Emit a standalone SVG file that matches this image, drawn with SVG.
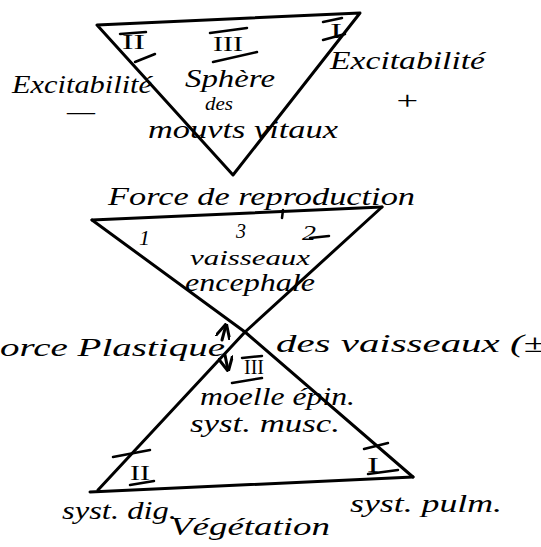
<svg xmlns="http://www.w3.org/2000/svg" width="541" height="547" viewBox="0 0 541 547">
<style>
.ln{fill:none;stroke:#000;stroke-width:3;stroke-linecap:round;stroke-linejoin:round}
.bar{fill:none;stroke:#000;stroke-width:2.5;stroke-linecap:round}
.t{font-family:"Liberation Serif",serif;font-style:italic;fill:#000;font-size:26px}
.s{font-size:22px}
.r{font-family:"Liberation Serif",serif;fill:#000;font-size:20px}
</style>
<defs>
<marker id="ah" viewBox="0 0 10 10" refX="9" refY="5" markerWidth="5" markerHeight="5" orient="auto">
<path d="M0,0 L10,5 L0,10" fill="none" stroke="#000" stroke-width="2"/>
</marker>
</defs>
<rect width="541" height="547" fill="#fff"/>
<g id="connectors">
<path id="top-triangle" class="ln" d="M97,25 L360,13 L233,175 Z"/>
<path id="hourglass-top" class="ln" d="M92,220 L382,207"/>
<path id="hourglass-diag1" class="ln" d="M92,220 L245,332 L413,477"/>
<path id="hourglass-diag2" class="ln" d="M382,207 L245,332 L98,490"/>
<path id="hourglass-bottom" class="ln" d="M90,492 L413,477"/>
<path class="bar" d="M283,210 L282,218"/>
<path class="ln" d="M222,340 L226,325" marker-end="url(#ah)"/>
<path class="ln" d="M225,355 L228,370" marker-end="url(#ah)"/>
</g>
<g id="top-numerals">
<text class="r" x="122" y="49" textLength="23" lengthAdjust="spacingAndGlyphs">II</text>
<path class="bar" d="M120,34 L146,32 M135,62 L155,54"/>
<text class="r" x="213" y="51" textLength="30" lengthAdjust="spacingAndGlyphs">III</text>
<path class="bar" d="M210,33 L247,28 M213,62 L257,52"/>
<text class="r" x="330" y="38" textLength="12" lengthAdjust="spacingAndGlyphs">I</text>
<path class="bar" d="M323,22 L342,18 M323,40 L345,34"/>
</g>
<g id="sphere">
<text class="t" x="185" y="87" textLength="90" lengthAdjust="spacingAndGlyphs">Sphère</text>
<text class="t" x="205" y="110" font-size="18" textLength="28" lengthAdjust="spacingAndGlyphs" style="font-size:18px">des</text>
<text class="t" x="148" y="138" textLength="190" lengthAdjust="spacingAndGlyphs">mouvts vitaux</text>
</g>
<g id="excit-minus">
<text class="t" x="12" y="93" textLength="140" lengthAdjust="spacingAndGlyphs">Excitabilité</text>
<text class="t" x="67" y="120" textLength="28" lengthAdjust="spacingAndGlyphs">—</text>
</g>
<g id="excit-plus">
<text class="t" x="330" y="69" textLength="155" lengthAdjust="spacingAndGlyphs">Excitabilité</text>
<text class="t" x="394" y="109" textLength="26" lengthAdjust="spacingAndGlyphs">+</text>
</g>
<g id="reproduction">
<text class="t" x="108" y="205" textLength="307" lengthAdjust="spacingAndGlyphs">Force de reproduction</text>
</g>
<g id="vaisseaux-encephale">
<text class="t s" x="139" y="245">1</text>
<text class="t" x="236" y="238" style="font-size:20px">3</text>
<text class="t s" x="302" y="240" textLength="14" lengthAdjust="spacingAndGlyphs">2</text>
<path class="bar" d="M310,238 L329,236"/>
<text class="t s" x="190" y="265" textLength="120" lengthAdjust="spacingAndGlyphs">vaisseaux</text>
<text class="t" x="185" y="291" textLength="130" lengthAdjust="spacingAndGlyphs">encephale</text>
</g>
<g id="force-plastique">
<text class="t" x="0" y="356" textLength="225" lengthAdjust="spacingAndGlyphs">orce Plastique</text>
</g>
<g id="des-vaisseaux">
<text class="t" x="276" y="352" textLength="270" lengthAdjust="spacingAndGlyphs">des vaisseaux (±</text>
</g>
<g id="moelle">
<text class="r" x="244" y="374" textLength="20" lengthAdjust="spacingAndGlyphs">III</text>
<path class="bar" d="M242,358 L262,356 M232,383 L262,378"/>
<text class="t" x="200" y="405" textLength="155" lengthAdjust="spacingAndGlyphs">moelle épin.</text>
<text class="t" x="190" y="432" textLength="150" lengthAdjust="spacingAndGlyphs">syst. musc.</text>
</g>
<g id="syst-dig">
<text class="r" x="130" y="480" textLength="20" lengthAdjust="spacingAndGlyphs">II</text>
<path class="bar" d="M113,457 L150,450 M130,485 L154,481"/>
<text class="t" x="62" y="519" textLength="115" lengthAdjust="spacingAndGlyphs">syst. dig.</text>
</g>
<g id="syst-pulm">
<text class="r" x="367" y="472" textLength="12" lengthAdjust="spacingAndGlyphs">I</text>
<path class="bar" d="M364,449 L388,443 M368,474 L398,470"/>
<text class="t" x="350" y="512" textLength="152" lengthAdjust="spacingAndGlyphs">syst. pulm.</text>
</g>
<g id="vegetation">
<text class="t" x="170" y="535" textLength="160" lengthAdjust="spacingAndGlyphs">Végétation</text>
</g>
</svg>
